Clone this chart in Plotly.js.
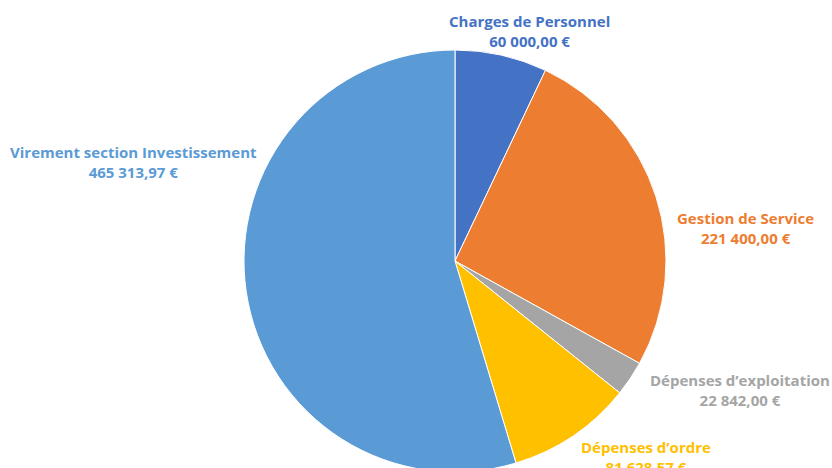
<!DOCTYPE html>
<html>
<head>
<meta charset="utf-8">
<script src="https://cdn.plot.ly/plotly-3.0.1.min.js"></script>
<style>
html,body{margin:0;padding:0;overflow:hidden;background:#fff;width:832px;height:468px;}
#chart{width:832px;height:500px;}
</style>
</head>
<body>
<div id="chart"></div>
<script>
const categories = ["Charges de Personnel", "Gestion de Service", "Dépenses d’exploitation", "Dépenses d’ordre", "Virement section Investissement"];
const values = [60000.00, 221400.00, 22842.00, 81628.57, 465313.97];
const colors = ["#4472C4", "#ED7D31", "#A5A5A5", "#FFC000", "#5B9BD5"];

function fmtEuro(v) {
  const parts = v.toFixed(2).split(".");
  const intPart = parts[0].replace(/\B(?=(\d{3})+(?!\d))/g, " ");
  return intPart + "," + parts[1] + " €";
}

const W = 832, H = 500;
// label anchor positions in pixels (layout)
const labelPos = [
  [529, 31],
  [745, 228],
  [740, 390],
  [646, 457],
  [133, 162]
];

const annotations = categories.map((c, i) => ({
  xref: "paper", yref: "paper",
  x: labelPos[i][0] / W, y: 1 - labelPos[i][1] / H,
  xanchor: "center", yanchor: "middle",
  showarrow: false,
  align: "center",
  text: c + "<br>" + fmtEuro(values[i]),
  font: {family: "'Open Sans', sans-serif", size: 15, color: colors[i], weight: "bold"}
}));

const cx = 455, cyTop = 261, r = 211;
const data = [{
  type: "pie",
  labels: categories,
  values: values,
  sort: false,
  direction: "clockwise",
  rotation: 0,
  textinfo: "none",
  hoverinfo: "label+value",
  marker: {colors: colors, line: {color: "#ffffff", width: 1}},
  domain: {x: [(cx - r) / W, (cx + r) / W], y: [1 - (cyTop + r) / H, 1 - (cyTop - r) / H]},
  showlegend: false
}];

const layout = {
  width: W, height: H,
  margin: {l: 0, r: 0, t: 0, b: 0},
  paper_bgcolor: "#ffffff",
  plot_bgcolor: "#ffffff",
  showlegend: false,
  annotations: annotations
};

Plotly.newPlot("chart", data, layout, {displayModeBar: false, staticPlot: true});
</script>
</body>
</html>
